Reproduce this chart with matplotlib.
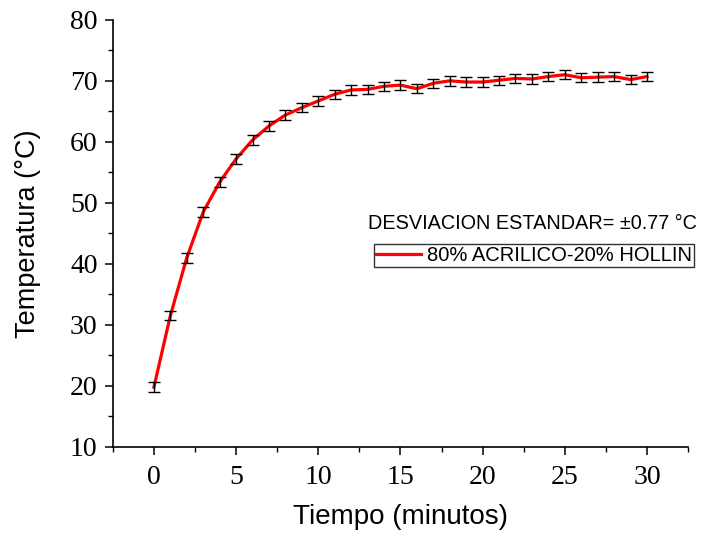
import matplotlib
matplotlib.use("Agg")
import matplotlib.pyplot as plt
from matplotlib.ticker import MultipleLocator

# Temperatura vs tiempo, 80% acrilico - 20% hollin
tiempo = list(range(0, 31))
temperatura = [19.8, 31.5, 41.0, 48.5, 53.4, 57.2, 60.3, 62.6, 64.4, 65.6,
               66.7, 67.8, 68.5, 68.6, 69.1, 69.3, 68.7, 69.6, 70.0, 69.8,
               69.8, 70.1, 70.4, 70.3, 70.7, 71.0, 70.5, 70.6, 70.7, 70.2,
               70.7]
desviacion = 0.77
serie_label = "80% ACRILICO-20% HOLLIN"

plt.rcParams['font.family'] = ['Liberation Sans', 'DejaVu Sans']

fig = plt.figure(figsize=(7.05, 5.35), dpi=100)
ax = fig.add_axes([0.160, 0.1645, 0.816, 0.7985])

ax.errorbar(tiempo, temperatura, yerr=desviacion, fmt='none', ecolor='black',
            elinewidth=1.0, capsize=4, capthick=1.0, zorder=3)
ax.plot(tiempo, temperatura, color='#ff0000', linewidth=2.3, label=serie_label, zorder=2)

ax.set_xlim(-2.5, 32.5)
ax.set_ylim(10, 80)
ax.xaxis.set_major_locator(MultipleLocator(5))
ax.xaxis.set_minor_locator(MultipleLocator(2.5))
ax.yaxis.set_major_locator(MultipleLocator(10))
ax.yaxis.set_minor_locator(MultipleLocator(5))

for s in ['top', 'right']:
    ax.spines[s].set_visible(False)
for s in ['left', 'bottom']:
    ax.spines[s].set_linewidth(1.2)

ax.tick_params(which='major', direction='out', length=6, width=1.1, pad=5)
ax.tick_params(axis='x', which='major', pad=7)
ax.tick_params(which='minor', direction='out', length=3.5, width=1.0)
for lbl in ax.get_xticklabels() + ax.get_yticklabels():
    lbl.set_fontfamily('Liberation Serif')
    lbl.set_fontsize(20)

ax.set_xlabel('Tiempo (minutos)', fontsize=20, labelpad=10)
ax.set_ylabel('Temperatura (°C)', fontsize=19.5, labelpad=21)

fig.text(0.522, 0.582, 'DESVIACION ESTANDAR= \u00b10.77 °C', fontsize=14.3,
         ha='left', va='center')
leg = ax.legend(loc='upper left', bbox_to_anchor=(0.531, 0.544), bbox_transform=fig.transFigure,
                fontsize=14.5, frameon=True, fancybox=False, edgecolor='black',
                borderpad=0.1, handlelength=2.2, handletextpad=0.3, borderaxespad=0)
leg.get_frame().set_linewidth(1.0)

fig.savefig('out.png', dpi=100)
